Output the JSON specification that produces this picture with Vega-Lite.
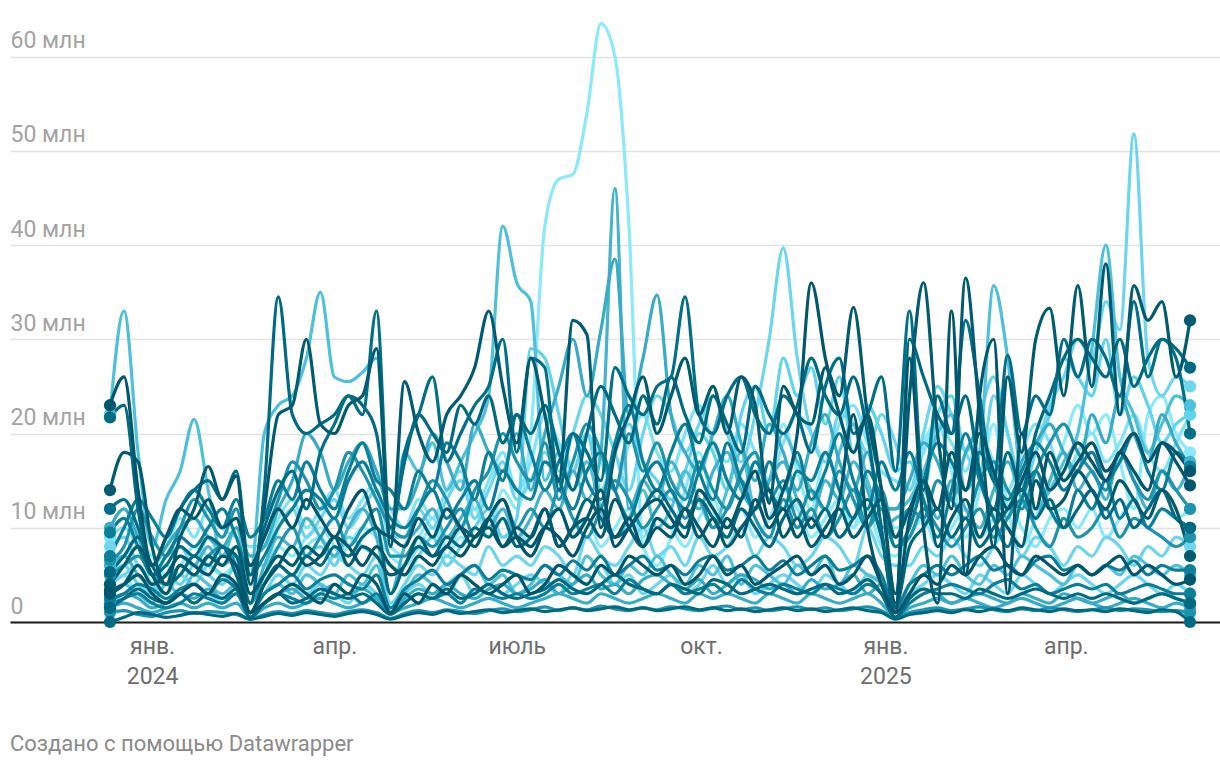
{
  "$schema": "https://vega.github.io/schema/vega-lite/v6.json",
  "width": 1210,
  "height": 622,
  "autosize": {"type": "none"},
  "padding": {"left": 10, "top": 0, "right": 0, "bottom": 146},
  "background": "#ffffff",
  "config": {"view": {"stroke": null}, "font": "Roboto"},
  "title": {"text": "Создано с помощью Datawrapper", "orient": "bottom", "anchor": "start", "frame": "group", "offset": 46, "fontSize": 22, "fontWeight": "normal", "color": "#8a8a8a", "font": "Roboto", "baseline": "top"},
  "datasets": {
    "weeks": [
      {"i":1,"t":1702252800000},{"i":2,"t":1702857600000},{"i":3,"t":1703462400000},{"i":4,"t":1704067200000},{"i":5,"t":1704672000000},
      {"i":6,"t":1705276800000},{"i":7,"t":1705881600000},{"i":8,"t":1706486400000},{"i":9,"t":1707091200000},{"i":10,"t":1707696000000},
      {"i":11,"t":1708300800000},{"i":12,"t":1708905600000},{"i":13,"t":1709510400000},{"i":14,"t":1710115200000},{"i":15,"t":1710720000000},
      {"i":16,"t":1711324800000},{"i":17,"t":1711929600000},{"i":18,"t":1712534400000},{"i":19,"t":1713139200000},{"i":20,"t":1713744000000},
      {"i":21,"t":1714348800000},{"i":22,"t":1714953600000},{"i":23,"t":1715558400000},{"i":24,"t":1716163200000},{"i":25,"t":1716768000000},
      {"i":26,"t":1717372800000},{"i":27,"t":1717977600000},{"i":28,"t":1718582400000},{"i":29,"t":1719187200000},{"i":30,"t":1719792000000},
      {"i":31,"t":1720396800000},{"i":32,"t":1721001600000},{"i":33,"t":1721606400000},{"i":34,"t":1722211200000},{"i":35,"t":1722816000000},
      {"i":36,"t":1723420800000},{"i":37,"t":1724025600000},{"i":38,"t":1724630400000},{"i":39,"t":1725235200000},{"i":40,"t":1725840000000},
      {"i":41,"t":1726444800000},{"i":42,"t":1727049600000},{"i":43,"t":1727654400000},{"i":44,"t":1728259200000},{"i":45,"t":1728864000000},
      {"i":46,"t":1729468800000},{"i":47,"t":1730073600000},{"i":48,"t":1730678400000},{"i":49,"t":1731283200000},{"i":50,"t":1731888000000},
      {"i":51,"t":1732492800000},{"i":52,"t":1733097600000},{"i":53,"t":1733702400000},{"i":54,"t":1734307200000},{"i":55,"t":1734912000000},
      {"i":56,"t":1735516800000},{"i":57,"t":1736121600000},{"i":58,"t":1736726400000},{"i":59,"t":1737331200000},{"i":60,"t":1737936000000},
      {"i":61,"t":1738540800000},{"i":62,"t":1739145600000},{"i":63,"t":1739750400000},{"i":64,"t":1740355200000},{"i":65,"t":1740960000000},
      {"i":66,"t":1741564800000},{"i":67,"t":1742169600000},{"i":68,"t":1742774400000},{"i":69,"t":1743379200000},{"i":70,"t":1743984000000},
      {"i":71,"t":1744588800000},{"i":72,"t":1745193600000},{"i":73,"t":1745798400000},{"i":74,"t":1746403200000},{"i":75,"t":1747008000000},
      {"i":76,"t":1747612800000},{"i":77,"t":1748217600000},{"i":78,"t":1748822400000}
    ]
  },
  "data": {"values": [
    {"s":"r01","v":[4,5,3,4,6,5,7,6,5,6, 4,5,8,7,9,10,8,6,9,10, 8,7,9,11,8,10,12,9,14,12, 20,42,47,47.5,54,63.5,60,42,8,6, 9,14,18,12,9,13,17,15,21,16, 12,18,14,10,16,13,10,11,19,21, 16,9,14,21,12,8,11,15,19,23, 20,22,17,12,22,24,20,18]},
    {"s":"r02","v":[6,7,8,7,5,6,8,7,6,7, 4,5,7,6,8,9,7,8,10,9, 7,6,8,10,7,9,8,11,9,10, 8,10,12,9,11,8,10,12,9,11, 10,8,11,13,10,12,9,11,14,12, 9,11,13,10,12,8,7,9,11,8, 10,12,9,11,13,10,8,11,12,10, 12,9,11,13,10,12,11,12]},
    {"s":"r03","v":[9,10,8,6,8,11,9,12,10,9, 8,8,11,13,10,12,14,11,13,15, 12,10,13,11,14,16,12,15,18,14, 17,22,19,16,20,17,14,19,22,18, 16,20,23,19,17,21,18,15,19,22, 20,17,21,23,19,16,15,14,18,21, 19,16,20,17,14,18,21,19,15,18, 20,17,19,22,18,16,19,22]},
    {"s":"r04","v":[8,9,6,5,7,8,6,9,7,8, 6,6,10,12,9,11,13,10,12,14, 9,9,12,10,13,15,11,14,17,13, 15,18,16,20,24,22,18,14,20,24, 22,18,21,24,20,17,22,30,39.7,28, 20,17,22,21,18,22,19,14,20,25, 22,18,16,24,20,14,18,23,26,30, 28,34,31,51.8,28,24,26,25]},
    {"s":"r05","v":[5,6,4,3,5,4,6,5,4,6, 1,4,6,5,7,8,6,9,8,7, 6,5,7,9,6,8,10,12,9,11, 29,28,22,16,20,14,18,21,17,15, 13,16,20,18,14,22,25,20,28,24, 27,21,26,18,23,20,16,17,14,22, 24,18,22,26,20,15,18,22,28,26, 24,30,22,26,23,19,21,22]},
    {"s":"r06","v":[4,5,6,4,3,5,4,6,5,4, 1,3,5,4,6,5,7,6,5,7, 2,4,6,5,7,6,5,8,6,7, 6,8,7,5,9,7,6,8,10,7, 8,6,9,7,8,10,7,9,8,6, 7,9,8,6,10,7,6,6,8,7, 9,7,6,8,10,7,9,8,6,8, 7,9,8,6,8,7,9,8]},
    {"s":"r07","v":[2,3,4,3,2,3,4,3,2,3, 1,2,3,4,3,4,3,2,4,3, 1,3,4,3,4,5,3,4,3,4, 5,4,3,5,4,6,4,5,3,4, 5,3,4,6,4,5,3,4,5,4, 3,5,4,3,5,4,1,3,4,5, 4,3,5,4,3,5,4,3,4,5, 4,3,4,5,4,3,4,3]},
    {"s":"r08","v":[22,33,18,8,13,16,21.5,14,7,10, 5,20,23,24,28,35,26,25.5,26.5,28, 9,18,16,19,14,17,20,24,42,36, 34,15,18,14,17,12,9,11,14,10, 12,16,13,10,14,18,12,15,20,17, 14,12,18,21,15,12,12,13,16,20, 22,14,18,35.7,28,15,12,14,17,20, 29,40,26,22,18,21,24,23]},
    {"s":"r09","v":[6,7,5,4,5,7,6,8,6,7, 2,6,9,8,11,9,7,10,12,9, 3,8,10,12,9,11,13,10,12,9, 11,14,12,16,13,18,46,12,15,13, 17,14,12,16,18,14,12,15,17,13, 11,15,13,17,14,10,11,12,14,11, 15,12,10,14,17,13,11,15,18,14, 16,13,18,15,12,16,14,17]},
    {"s":"r10","v":[3,4,3,2,4,3,5,4,3,4, 1,3,4,3,5,4,3,5,4,6, 1,3,5,4,3,5,6,4,5,3, 4,6,5,4,7,5,4,6,5,7, 5,4,6,5,7,4,6,5,4,6, 5,7,4,6,5,4,1,4,6,5, 7,5,4,6,5,7,6,5,4,6, 5,6,5,7,6,5,6,5]},
    {"s":"r11","v":[10,12,9,6,8,10,11,9,8,10, 7,8,12,15,20,18,14,17,19,16, 12,12,15,20,17,14,21,18,16,20, 14,20,25,30,24,31,38.5,22,28,34.7, 22,18,16,20,24,19,15,21,18,14, 19,22,17,14,18,12,12,15,19,17, 13,18,20,15,11,17,19,21,18,16, 22,19,24,20,17,22,19,16.5]},
    {"s":"r12","v":[2,3,2.5,1.5,2,3,2.5,3.5,2.5,3, 0.5,2,3,3.5,2.5,3,4,3,3.5,2.5, 1,2.5,3.5,3,4,3,2.5,3.5,4,3, 3.5,4.5,3,4,5,3.5,4,3,4.5,5, 4,3.5,4.5,3,4,5,4.5,3.5,4,3, 4.5,3.5,4,5,3,4,1,2.5,3.5,3, 2,2.5,3,2.5,2,3,2.5,2,3,2.5, 2,2.5,3,2,2.5,3,2.5,2]},
    {"s":"r27","v":[1.5,2,1.5,1,1.5,2,1.5,2,1.5,2, 0.5,1.5,2,1.5,2,2.5,2,1.5,2,2.5, 1,1.5,2,2.5,2,1.5,2,2.5,2,1.5, 2,2.5,3,2.5,2,3,2.5,2,2.5,3, 2.5,2,3,2.5,3,2.5,2,3,2.5,2, 3,2.5,2,2.5,3,2,0.5,1.5,2,2.5, 2,2.5,2,1.5,2,2.5,2,1.5,2,2.5, 2,1.5,2,2.5,2,1.5,2,1.5]},
    {"s":"r13","v":[6.6,8,12,9,7,10,13,11,9,12, 6,9,13,17,15,12,14,18,16,13, 10,9,12,15,13,10,14,16,20,17, 15,19,13,17,21,18,14,20,16,19, 15,13,17,14,12,16,18,13,15,11, 14,12,16,13,10,14,9,12,11,15, 13,11,15,17,14,12,16,19,21,18, 16,14,18,15,13,16,14,12]},
    {"s":"r14","v":[5,6,7,5,4,6,5,7,8,6, 2,5,8,10,7,9,11,8,10,12, 7,7,9,8,10,12,9,11,13,10, 12,10,14,11,9,12,15,13,10,12, 14,11,13,10,12,15,11,9,13,10, 12,9,11,14,10,12,8,9,12,10, 8,10,12,9,11,13,10,8,11,9, 10,12,9,11,10,9,8,9]},
    {"s":"r28","v":[1,1.2,0.8,0.6,1,1.2,0.9,1.1,1,0.8, 0.3,0.8,1.1,0.9,1.2,1,0.8,1.1,1.3,1, 0.4,0.9,1.2,1,1.3,1.1,0.9,1.2,1.4,1.1, 1.3,1.6,1.2,1.5,1.3,1.7,1.4,1.2,1.5,1.3, 1.6,1.4,1.2,1.5,1.7,1.3,1.5,1.2,1.4,1.6, 1.3,1.5,1.2,1.4,1.6,1.2,0.4,1,1.3,1.5, 1.2,1.4,1.6,1.3,1.1,1.4,1.2,1.5,1.3,1.1, 1.3,1.5,1.2,1.4,1.3,1.1,1.2,1]},
    {"s":"r15","v":[9.5,11,8,5,7,9,8,10,12,9, 5,7,10,12,14,13,11,15,17,14, 11,10,12,14,11,13,15,12,16,14, 13,17,15,12,16,18,14,11,15,17, 14,12,16,19,15,13,17,14,12,16, 15,18,14,11,16,13,8,10,15,19, 17,14,18,15,13,16,19,17,14,16, 18,15,17,20,16,14,18,16.5]},
    {"s":"r16","v":[1.8,2.5,3,2,1.5,2,3,2.5,2,3, 0.5,2,3,2.5,2,3,2.5,3,2,3, 1,2,3,2.5,3,2,3.5,3,2.5,3, 2.5,3,4,3,3.5,4,3,4.5,3.5,3, 4,3,3.5,4,3,4.5,3.5,3,4,3.5, 3,4,3.5,3,4,3,0.5,2,3,3.5, 4,3.5,3,4,4.5,3.5,4,3,3.5,4, 3.5,4,3,3.5,4,3.5,3,3]},
    {"s":"r29","v":[2.5,3,4,3.5,2.5,3.5,4,3,4.5,3.5, 1,3,4,5,3.5,4.5,5,4,3.5,5, 1.5,3.5,4.5,5.5,4,5,6,4.5,5.5,5, 4.5,6,5,6.5,5.5,7,5,6,7,5.5, 6,5,6.5,7,5.5,6,7,5.5,6.5,5, 6,7,5.5,6,7,5,1.5,4,5,6, 5,6,7,5.5,6,5,6.5,7,5.5,6, 5,6,5.5,6.5,5,6,5.5,5.5]},
    {"s":"r17","v":[7,10,13,11,9,12,14,12,10,13, 9,11,15,13,17,14,12,16,19,15, 14,12,16,14,19,17,13,18,15,22, 18,14,17,20,15,13,19,23,17,14, 18,21,16,13,19,15,12,17,14,18, 13,16,20,15,12,17,14,18,13,9, 14,20,15,11,8,13,16,12,10,14, 12,15,11,13,10,12,11,10]},
    {"s":"r18","v":[21.7,23,12,5,6,8,7,9,8,7, 2,14,34.5,22,20,21,22,24,23,20, 10,17,22,20,18,23,21,24,19,22, 20,23,18,14,20,25,22,19,24,21, 26,22,19,24,21,18,25,22,20,23, 28,24,22,26,20,10,1,30,26,22, 20,24,16,12,18,14,20,24,28,30, 28,26,30,25,28,30,29,27]},
    {"s":"r19","v":[12,13,10,6,9,12,14,15,13,16, 5,10,14,16,12,18,21,24,22,33, 9,18,22,26,17,20,23,25,30,18, 28,27,14,20,18,15,27,24,22,25, 26,34.5,22,20,24,26,22,20,24,22, 18,25,28,20,22,26,16,33,14,24, 20,32,24,15,28.3,20,24,22,30,26, 30,28,24,34,26,30,28,20]},
    {"s":"r20","v":[5.3,7,9,6,4,5,7,6,8,5, 1,4,6,5,7,6,8,7,9,10, 3,6,8,7,9,8,10,9,11,8, 9,12,8,10,13,11,9,10,12,14, 12,10,13,11,9,12,10,8,11,13, 10,12,9,11,13,9,1.6,8,10,12, 9,11,8,10,12,14,11,13,10,12, 14,11,13,10,12,14,11,10]},
    {"s":"r21","v":[0,0.5,1,0.8,0.5,0.7,1,0.8,0.6,0.9, 0.3,0.6,0.9,0.7,1,0.8,0.6,0.9,1.1,0.8, 0.3,0.7,1,0.8,1.2,0.9,1.1,1.3,1,1.2, 1.4,1.1,1.3,1.5,1.2,1.4,1.6,1.3,1.5,1.2, 1.4,1.6,1.3,1.5,1.2,1.4,1.1,1.3,1.5,1.2, 1.4,1.1,1.3,1.5,1.2,1,0.3,0.8,1,1.2, 1,1.3,1.1,1.4,1.2,1.5,1.3,1.1,1.4,1.2, 1.3,1.1,1.4,1.2,1,1.3,1.1,0]},
    {"s":"r30","v":[1.5,2.5,3.5,2.5,2,3,2,3,2.5,3.5, 0.5,2,3,2,2.5,3.5,3,2.5,3,2, 0.8,2,3,2.5,3.5,2.5,3,4,3,2.5, 3,3.5,4.5,3.5,3,4,5,4,3.5,3, 4,3.5,3,4.5,4,3,3.5,4,3.5,3, 3.5,4,3,3.5,4.5,3,0.5,2.5,3.5,3, 3,2.5,3.5,3,2.5,3,3.5,3,2.5,3, 2.5,3,2.5,2,2.5,3,2.5,2]},
    {"s":"r22","v":[23,26,14,6,9,12,11,13,10,11, 6,9,12,10,13,11,9,12,14,10, 9,8,11,9,12,10,8,11,13,9, 7,10,12,9,11,14,8,10,12,13, 11,9,14,12,10,13,16,11,14,20, 36,28,22,18,22,14,2,11,15,12, 18,14,20,16,12,15,18,14,16,19, 17,15,18,16,14,19,17,14.5]},
    {"s":"r23","v":[14,18,17,8,4,9,12,16.5,13,15.5, 4,12,22,23,30,21,20,23,24,29, 8,25.5,20,17,22,24,27,33,25,19, 28,22,15,32,30.5,10,18,22,26,20, 24,28,22,25,20,26,23,12.6,25,22, 21,27,24,33.4,22,14,3,24,36,20, 12,36.5,22,8,26,18,30,33.3,24,35.7, 25,38,22,35.7,32,34,26,32]},
    {"s":"r24","v":[3.4,4,5,3,2,3,4,3,5,4, 1,2,3,4,3,2,4,3,5,4, 1,3,2,4,3,5,4,3,4,5, 3,4,6,5,4,6,5,7,6,5, 6,4,5,7,5,6,4,5,6,7, 5,6,4,5,7,4,1,3,5,4, 6,5,7,8,6,5,7,6,5,6, 5,6,7,5,6,5,4,4.5]},
    {"s":"r25","v":[4,6,8,5,3,6,5,7,6,8, 3,5,7,6,8,7,9,6,8,7, 5,6,9,7,8,10,9,11,8,10, 9,12,8,10,11,9,13,10,8,11, 10,12,9,11,8,10,12,14,9,11, 8,10,12,9,11,13,9,12,15,8, 11,13,9,12,10,8,15,12,13,16, 14,12,15,13,11,14,12,7]},
    {"s":"r26","v":[3,4,6,4,5,7,6,5,7,6, 1,4,6,8,6,7,9,8,6,8, 6,5,7,6,8,7,9,10,8,9, 8,10,9,7,10,12,9,11,8,10, 9,12,10,8,11,9,13,10,12,9, 11,9,13,22,10,4,1,28,10,2, 33,5,24,30,3,20,12,18,15,17, 19,16,18,20,17,19,18,16]}
  ]},
  "transform": [
    {"flatten": ["v"]},
    {"window": [{"op": "row_number", "as": "i"}], "groupby": ["s"]},
    {"lookup": "i", "from": {"data": {"name": "weeks"}, "key": "i", "fields": ["t"]}}
  ],
  "encoding": {
    "x": {
      "field": "t", "type": "temporal",
      "scale": {"type": "utc", "domain": [1697940576000, 1750115808000]},
      "axis": {
        "values": [
          {"year": 2024, "month": 1, "date": 1, "utc": true},
          {"year": 2024, "month": 4, "date": 1, "utc": true},
          {"year": 2024, "month": 7, "date": 1, "utc": true},
          {"year": 2024, "month": 10, "date": 1, "utc": true},
          {"year": 2025, "month": 1, "date": 1, "utc": true},
          {"year": 2025, "month": 4, "date": 1, "utc": true}
        ],
        "labelExpr": "utcmonth(datum.value)==0 ? ['янв.', '' + utcyear(datum.value)] : utcmonth(datum.value)==3 ? 'апр.' : utcmonth(datum.value)==6 ? 'июль' : 'окт.'",
        "title": null, "grid": false, "ticks": false, "domain": true,
        "domainColor": "#1d1d1d", "domainWidth": 2,
        "labelColor": "#6e6e6e", "labelFontSize": 23, "labelFont": "Roboto",
        "labelPadding": 13, "labelLineHeight": 30, "labelBaseline": "top",
        "labelOverlap": false, "labelFlush": false, "labelBound": false
      }
    },
    "y": {
      "field": "v", "type": "quantitative",
      "scale": {"domain": [0, 66], "nice": false},
      "axis": {
        "values": [0, 10, 20, 30, 40, 50, 60],
        "labelExpr": "datum.value == 0 ? '0' : datum.value + ' млн'",
        "title": null, "grid": true, "gridColor": "#e3e3e3", "gridWidth": 1.5,
        "ticks": false, "tickSize": 0, "domain": false,
        "labelAlign": "left", "labelBaseline": "alphabetic", "labelPadding": 0, "labelOffset": -9,
        "labelColor": "#a3a3a3", "labelFontSize": 23, "labelFont": "Roboto",
        "labelOverlap": false, "labelBound": false, "labelFlush": false
      }
    },
    "color": {
      "field": "s", "type": "nominal", "legend": null,
      "scale": {
        "domain": ["r01","r02","r03","r04","r05","r06","r07","r08","r09","r10","r11","r12","r13","r14","r15","r16","r17","r18","r19","r20","r21","r22","r23","r24","r25","r26","r27","r28","r29","r30"],
        "range": ["#8ae9fb","#8ae9fb","#7fe2f6","#6dd6ee","#62d3ec","#6dd6ee","#6dd6ee","#4fc0da","#45b3cc","#4fc0da","#38abc6","#38abc6","#1e93ae","#1e93ae","#0b7f99","#0b7f99","#0b7f99","#006a82","#006f87","#006a82","#006a82","#00566c","#005b70","#00566c","#005b70","#00566c","#38abc6","#1e93ae","#0b7f99","#006a82"]
      }
    }
  },
  "layer": [
    {"mark": {"type": "line", "interpolate": "monotone", "strokeWidth": 3.2, "strokeCap": "round", "strokeJoin": "round"}},
    {"transform": [{"filter": "datum.i == 1 || datum.i == 78"}], "mark": {"type": "circle", "size": 150, "opacity": 1}}
  ]
}
